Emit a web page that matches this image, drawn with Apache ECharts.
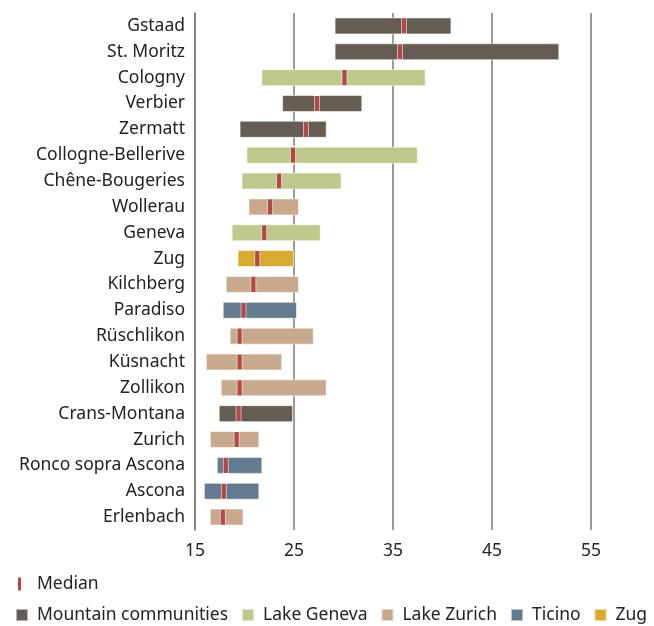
<!DOCTYPE html>
<html lang="en">
<head>
    <meta charset="UTF-8">
    <title>Price ranges</title>
    <script src="https://cdn.jsdelivr.net/npm/echarts@6/dist/echarts.min.js"></script>
</head>
<body style="margin:0;background:#fff;">
<div id="main" style="width: 654px;height:626px;"></div>
<script type="text/javascript">
    // data
    var places = ['Gstaad', 'St. Moritz', 'Cologny', 'Verbier', 'Zermatt', 'Collogne-Bellerive',
        'Chêne-Bougeries', 'Wollerau', 'Geneva', 'Zug', 'Kilchberg', 'Paradiso', 'Rüschlikon',
        'Küsnacht', 'Zollikon', 'Crans-Montana', 'Zurich', 'Ronco sopra Ascona', 'Ascona', 'Erlenbach'];
    var regions = ['Mountain communities', 'Mountain communities', 'Lake Geneva', 'Mountain communities',
        'Mountain communities', 'Lake Geneva', 'Lake Geneva', 'Lake Zurich', 'Lake Geneva', 'Zug',
        'Lake Zurich', 'Ticino', 'Lake Zurich', 'Lake Zurich', 'Lake Zurich', 'Mountain communities',
        'Lake Zurich', 'Ticino', 'Ticino', 'Lake Zurich'];
    var lows = [29.1, 29.1, 21.7, 23.8, 19.5, 20.2, 19.7, 20.4, 18.7, 19.3,
        18.1, 17.8, 18.5, 16.1, 17.6, 17.4, 16.5, 17.2, 15.9, 16.5];
    var highs = [40.9, 51.8, 38.3, 31.9, 28.3, 37.5, 29.8, 25.5, 27.7, 25.0,
        25.5, 25.3, 27.0, 23.8, 28.3, 24.9, 21.5, 21.8, 21.5, 19.9];
    var medians = [36.1, 35.7, 30.1, 27.3, 26.2, 24.9, 23.5, 22.6, 22.0, 21.3,
        20.9, 19.9, 19.5, 19.5, 19.5, 19.4, 19.2, 18.1, 17.9, 17.8];
    var groups = ['Mountain communities', 'Lake Geneva', 'Lake Zurich', 'Ticino', 'Zug'];
    var groupColors = ['#655c52', '#bfc98c', '#c8a98e', '#647b8f', '#d6ab30'];
    var xTicks = [15, 25, 35, 45, 55];

    var fontName = 'Noto Sans';
    var fontSize = 17.5;
    var dom = document.getElementById("main");
    var myChart = echarts.init(dom);

    var series = [];
    // invisible part of the stack, from 0 up to the low value
    series.push({
        name: 'base',
        type: 'bar',
        stack: 'range',
        barWidth: 17,
        silent: true,
        itemStyle: {color: 'transparent'},
        data: lows
    });
    groups.forEach(function (g, gi) {
        series.push({
            name: g,
            type: 'bar',
            stack: 'range',
            barWidth: 17,
            itemStyle: {color: groupColors[gi], borderColor: 'rgba(255,255,255,0.55)', borderWidth: 1},
            data: places.map(function (p, i) {
                return regions[i] === g ? +(highs[i] - lows[i]).toFixed(2) : '-';
            })
        });
    });
    series.push({
        name: 'Median',
        type: 'scatter',
        symbol: 'rect',
        symbolSize: [5, 17],
        z: 5,
        itemStyle: {color: '#b04a48', borderColor: '#ffffff', borderWidth: 1, opacity: 1},
        data: places.map(function (p, i) { return [medians[i], p]; })
    });

    var option = {
        animation: false,
        textStyle: {fontFamily: fontName},
        grid: {left: 195, right: 63, top: 13, height: 517, containLabel: false},
        legend: [
            {
                data: [{name: 'Median', icon: 'rect'}],
                left: 16,
                top: 575,
                padding: 0,
                itemWidth: 5,
                itemHeight: 15,
                textStyle: {fontSize: fontSize, color: '#222', fontFamily: fontName, padding: [0, 0, 0, 10]}
            },
            {
                data: groups.map(function (g) { return {name: g, icon: 'rect'}; }),
                left: 15,
                top: 606,
                padding: 0,
                itemWidth: 12,
                itemHeight: 12,
                itemGap: 13,
                textStyle: {fontSize: fontSize, color: '#222', fontFamily: fontName, padding: [0, 0, 0, 4]}
            }
        ],
        xAxis: {
            type: 'value',
            min: 15,
            max: 55,
            interval: 10,
            axisLine: {show: false},
            axisTick: {show: false},
            axisLabel: {fontSize: fontSize, color: '#222', margin: 12, fontFamily: fontName},
            splitLine: {show: true, lineStyle: {color: '#7a7a7a', width: 1.5}}
        },
        yAxis: {
            type: 'category',
            inverse: true,
            data: places,
            axisLine: {show: true, lineStyle: {color: '#7a7a7a', width: 1.5}},
            axisTick: {show: false},
            axisLabel: {fontSize: fontSize, color: '#222', margin: 10, fontFamily: fontName}
        },
        series: series
    };
    myChart.setOption(option, true);
</script>
</body>
</html>
